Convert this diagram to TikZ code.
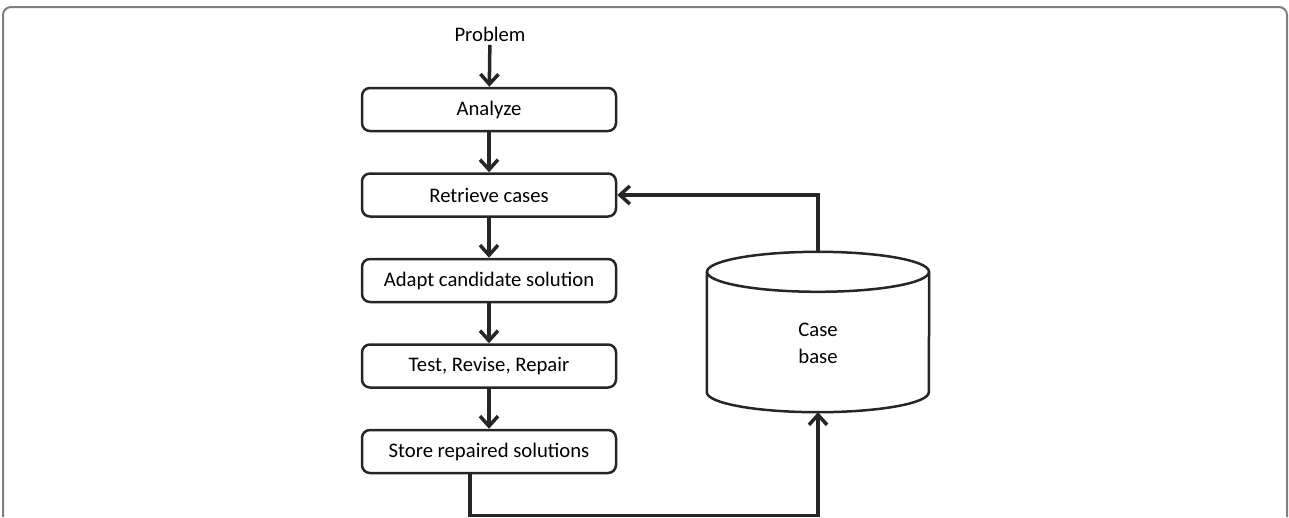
\documentclass[tikz,border=0pt]{standalone}
\usepackage{fontspec}
\setmainfont{Carlito}
\usetikzlibrary{positioning}
\usetikzlibrary{arrows.meta}

\tikzset{
  stepbox/.style={draw=black!85,line width=2.5pt,rounded corners=8pt,
    minimum width=254pt,minimum height=43pt,inner sep=0pt,
    font=\fontsize{20.7}{24}\selectfont},
  flow/.style={draw=black!85,line width=3.5pt,
    -{Straight Barb[length=10pt,width=18pt]}},
  cyl/.style={draw=black!85,line width=2.5pt},
}

\begin{document}
\begin{tikzpicture}[x=1pt,y=-1pt,node distance=40pt]
\useasboundingbox (0,0) rectangle (1289,517);
% outer frame
\draw[gray,line width=2pt,rounded corners=8pt] (3,517) -- (3,7) -- (1287,7) -- (1287,517);

\node[font=\fontsize{20.7}{24}\selectfont] (pb) at (490,34) {Problem};
\node[stepbox] (an) at (489,109.5) {Analyze};
\node[stepbox,below=of an] (rt) {Retrieve cases};
\node[stepbox,below=of rt] (ad) {Adapt candidate solution};
\node[stepbox,below=of ad] (ts) {Test, Revise, Repair};
\node[stepbox,below=of ts] (st) {Store repaired solutions};

% case base
\node[minimum width=222pt,minimum height=160pt,inner sep=0pt] (cb) at (818,332) {};
\draw[cyl] ([yshift=-20pt]cb.north) ellipse [x radius=111pt,y radius=20pt];
\draw[cyl] ([yshift=-20pt]cb.north west) -- ([yshift=20pt]cb.south west)
      arc[start angle=180,end angle=360,x radius=111pt,y radius=20pt]
      -- ([yshift=-20pt]cb.north east);
\node[font=\fontsize{20.7}{27}\selectfont,align=center] (cbt) at (818,343) {Case\\base};

\draw[flow] (pb) -- (an);
\draw[flow] (an) -- (rt);
\draw[flow] (rt) -- (ad);
\draw[flow] (ad) -- (ts);
\draw[flow] (ts) -- (st);
\draw[flow] ([xshift=-19pt]st.south) -- ++(0,41) -| (cb.south);
\draw[flow] (cb.north) |- (rt.east);
\end{tikzpicture}
\end{document}
